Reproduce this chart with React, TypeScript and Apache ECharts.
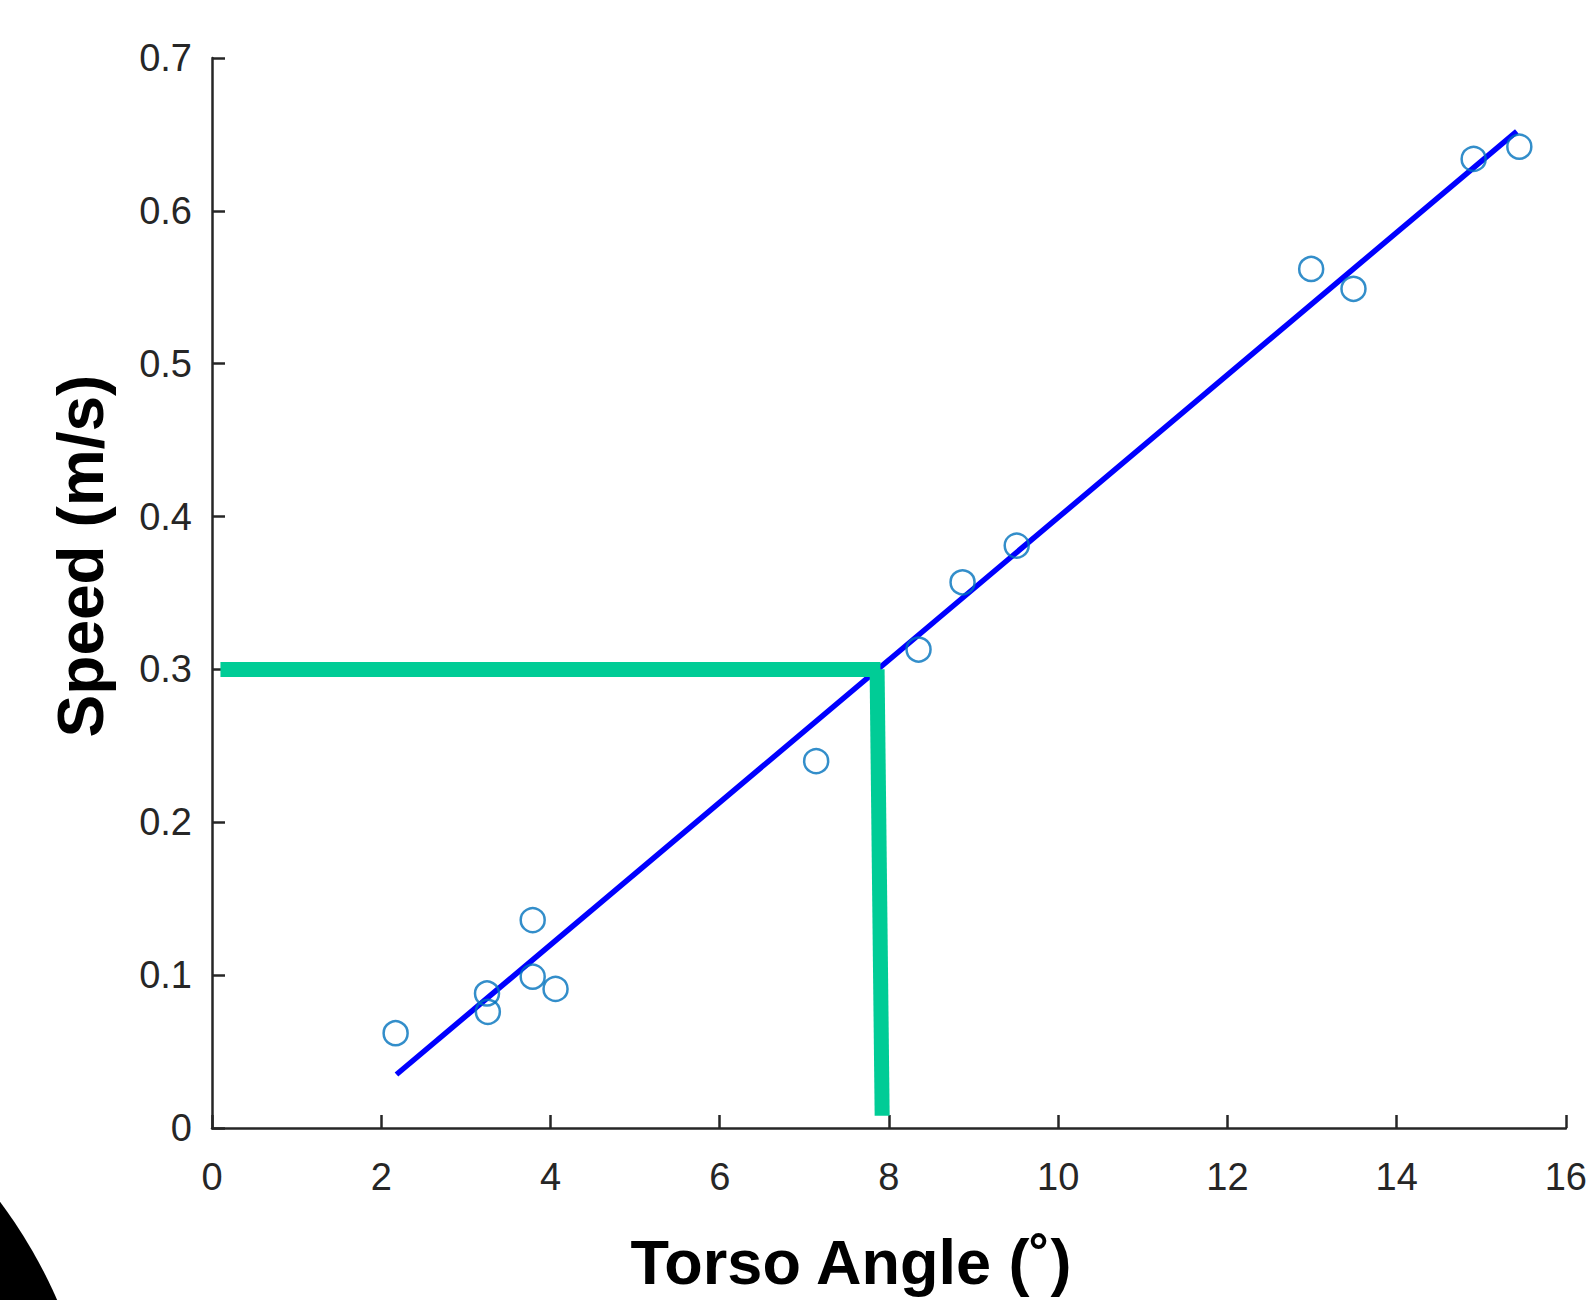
import React, { useEffect, useRef } from "react";
import * as echarts from "echarts";

const torsoAngle = [2.17, 3.25, 3.26, 3.79, 3.79, 4.06, 7.14, 8.35, 8.87, 9.51, 12.99, 13.49, 14.91, 15.45];
const speed = [0.062, 0.088, 0.076, 0.136, 0.099, 0.091, 0.24, 0.313, 0.357, 0.381, 0.562, 0.549, 0.634, 0.642];
const fitLine = [[2.18, 0.035], [15.42, 0.652]];
const guideH = [[0.1, 0.3], [7.9, 0.3]];
const guideV = [[7.86, 0.3], [7.92, 0.008]];
const xTicks = { min: 0, max: 16, interval: 2 };
const yTicks = { min: 0, max: 0.7, interval: 0.1 };
const xTitle = "Torso Angle (˚)";
const yTitle = "Speed (m/s)";

export default function App() {
  const ref = useRef<HTMLDivElement>(null);
  useEffect(() => {
    if (!ref.current) return;
    const chart = echarts.init(ref.current, null, { renderer: "svg" });
    const axisCommon = {
      axisLine: { show: true, lineStyle: { color: "#262626", width: 2.5 } },
      axisTick: { show: true, inside: true, length: 13, lineStyle: { color: "#262626", width: 2.5 } },
      splitLine: { show: false },
    };
    const font = '"Liberation Sans", Arial, sans-serif';
    chart.setOption({
      animation: false,
      backgroundColor: "#ffffff",
      grid: { left: 212, right: 22, top: 58, bottom: 172, containLabel: false },
      xAxis: {
        type: "value",
        ...xTicks,
        ...axisCommon,
        axisLabel: { color: "#262626", fontSize: 38, fontFamily: font, margin: 30 },
      },
      yAxis: {
        type: "value",
        ...yTicks,
        ...axisCommon,
        axisLabel: { color: "#262626", fontSize: 38, fontFamily: font, margin: 20 },
      },
      graphic: [
        {
          type: "text",
          x: 851,
          y: 1262,
          style: {
            text: xTitle,
            font: 'bold 63px "Liberation Sans", Arial, sans-serif',
            fill: "#000",
            textAlign: "center",
            textVerticalAlign: "middle",
          },
        },
        {
          type: "text",
          x: 81,
          y: 556,
          rotation: Math.PI / 2,
          style: {
            text: yTitle,
            font: 'bold 64px "Liberation Sans", Arial, sans-serif',
            fill: "#000",
            textAlign: "center",
            textVerticalAlign: "middle",
          },
        },
        {
          type: "circle",
          shape: { cx: -400, cy: 1500, r: 499 },
          style: { fill: "#000" },
        },
      ],
      series: [
        {
          type: "line",
          data: fitLine,
          symbol: "none",
          lineStyle: { color: "#0000ff", width: 5.5 },
          z: 3,
        },
        {
          type: "line",
          data: guideH,
          symbol: "none",
          lineStyle: { color: "#00cc96", width: 15, cap: "butt" },
          z: 4,
        },
        {
          type: "line",
          data: guideV,
          symbol: "none",
          lineStyle: { color: "#00cc96", width: 15, cap: "butt" },
          z: 4,
        },
        {
          type: "scatter",
          data: torsoAngle.map((x, i) => [x, speed[i]]),
          symbol: "circle",
          symbolSize: 24,
          itemStyle: { color: "rgba(255,255,255,0)", borderColor: "#0072bd", borderWidth: 2.5 },
          z: 5,
        },
      ],
    });
    return () => chart.dispose();
  }, []);
  return (
    <div
      ref={ref}
      style={{ position: "fixed", left: 0, top: 0, width: 1590, height: 1300 }}
    />
  );
}
